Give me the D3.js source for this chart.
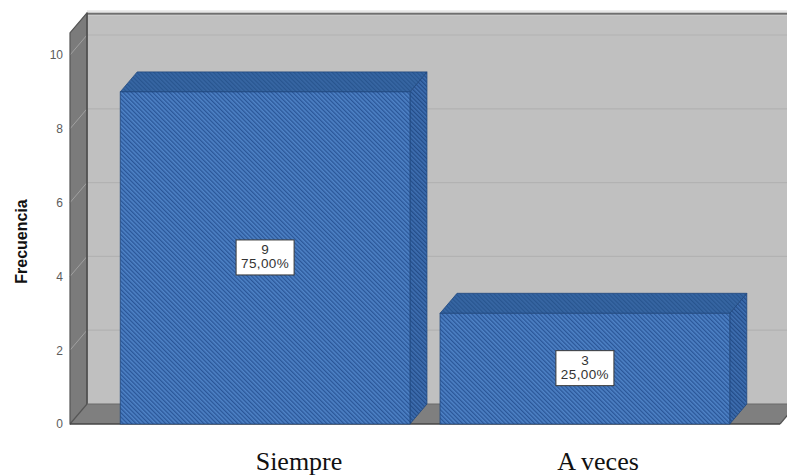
<!DOCTYPE html>
<html>
<head>
<meta charset="utf-8">
<script src="https://cdn.jsdelivr.net/npm/d3@7"></script>
<style>
  html, body { margin: 0; padding: 0; background: #ffffff; }
  svg { display: block; }
</style>
</head>
<body>
<svg id="chart" width="787" height="475"></svg>
<script>
// Frequency of answers, drawn as a 3D bar chart
const categories = ["Siempre", "A veces"];
const counts = [9, 3];
const yTicks = [0, 2, 4, 6, 8, 10];
const yTitle = "Frecuencia";

const total = d3.sum(counts);
const pctFormat = v => d3.format(".2f")(v * 100).replace(".", ",") + "%";

const svg = d3.select("#chart");
const W = 787, H = 475;

// Depth offset of the 3D box
const dx = 17, dy = -20;

const x = d3.scaleBand()
  .domain(categories)
  .range([70, 780])
  .paddingInner(0.094)
  .paddingOuter(0.157);

const y = d3.scaleLinear().domain([0, 10]).range([424, 55]);
const wallTopValue = 10.6;

// Category captions row below the floor
const captionX = d3.scalePoint().domain(categories).range([299, 598]);

const x0 = x.range()[0], x1 = x.range()[1];
const yBase = y(0), yTop = y(wallTopValue);

// Hatch patterns for the bar faces
const defs = svg.append("defs");
function hatch(id, base, stripe, w) {
  const p = defs.append("pattern")
    .attr("id", id)
    .attr("patternUnits", "userSpaceOnUse")
    .attr("width", 3).attr("height", 3)
    .attr("patternTransform", "rotate(-45)");
  p.append("rect").attr("width", 3).attr("height", 3).attr("fill", base);
  p.append("rect").attr("width", w).attr("height", 3).attr("fill", stripe);
}
hatch("hFront", "#4e82c6", "#2a5698", 1.3);
hatch("hSide", "#3f70b2", "#234c88", 1.3);
hatch("hTop", "#3766a3", "#28558f", 1.2);

const poly = pts => "M" + pts.map(p => p.join(",")).join("L") + "Z";

// Back wall
svg.append("path")
  .attr("d", poly([[x0 + dx, yBase + dy], [W + 20, yBase + dy], [W + 20, yTop + dy], [x0 + dx, yTop + dy]]))
  .attr("fill", "#c0c0c0");

// Side wall
svg.append("path")
  .attr("d", poly([[x0, yBase], [x0, yTop], [x0 + dx, yTop + dy], [x0 + dx, yBase + dy]]))
  .attr("fill", "#7b7b7b");

// Gridlines: diagonal across the side wall, horizontal across the back wall
const grid = svg.append("g");
yTicks.filter(t => t > 0).forEach(t => {
  grid.append("line")
    .attr("x1", x0).attr("y1", y(t))
    .attr("x2", x0 + dx).attr("y2", y(t) + dy)
    .attr("stroke", "#a0a0a0").attr("stroke-width", 1);
  grid.append("line")
    .attr("x1", x0 + dx).attr("y1", y(t) + dy)
    .attr("x2", W + 20).attr("y2", y(t) + dy)
    .attr("stroke", "#b2b2b2").attr("stroke-width", 1.2);
});

// Floor
svg.append("path")
  .attr("d", poly([[x0, yBase], [x1, yBase], [x1 + dx, yBase + dy], [x0 + dx, yBase + dy]]))
  .attr("fill", "#7f7f7f");

// Box edges
const edges = svg.append("g").attr("fill", "none").attr("stroke-linejoin", "round");
edges.append("line")
  .attr("x1", x0 + dx).attr("y1", yTop + dy).attr("x2", W + 20).attr("y2", yTop + dy)
  .attr("stroke", "#e6e6e6").attr("stroke-width", 5);
edges.append("line")
  .attr("x1", x0 + dx).attr("y1", yTop + dy + 1).attr("x2", W + 20).attr("y2", yTop + dy + 1)
  .attr("stroke", "#6f6f6f").attr("stroke-width", 2);
edges.append("line")
  .attr("x1", x0 + dx).attr("y1", yTop + dy).attr("x2", x0 + dx).attr("y2", yBase + dy)
  .attr("stroke", "#4a4a4a").attr("stroke-width", 1.5);
edges.append("path")
  .attr("d", poly([[x0, yBase], [x0, yTop], [x0 + dx, yTop + dy], [x0 + dx, yBase + dy]]))
  .attr("stroke", "#555555").attr("stroke-width", 1.2);
edges.append("line")
  .attr("x1", x0).attr("y1", yBase).attr("x2", x1).attr("y2", yBase)
  .attr("stroke", "#444444").attr("stroke-width", 1.5);
edges.append("line")
  .attr("x1", x1).attr("y1", yBase).attr("x2", x1 + dx).attr("y2", yBase + dy)
  .attr("stroke", "#555555").attr("stroke-width", 1.2);
edges.append("line")
  .attr("x1", x0 + dx).attr("y1", yBase + dy).attr("x2", x1 + dx).attr("y2", yBase + dy)
  .attr("stroke", "#6a6a6a").attr("stroke-width", 1);

// Bars
const bars = svg.append("g")
  .selectAll("g.bar")
  .data(categories.map((c, i) => ({ cat: c, value: counts[i] })))
  .join("g").attr("class", "bar");

bars.each(function (d) {
  const g = d3.select(this);
  const bx = x(d.cat), bw = x.bandwidth();
  const by = y(d.value);
  // side face
  g.append("path")
    .attr("d", poly([[bx + bw, yBase], [bx + bw, by], [bx + bw + dx, by + dy], [bx + bw + dx, yBase + dy]]))
    .attr("fill", "url(#hSide)")
    .attr("stroke", "#1f477f").attr("stroke-width", 0.8);
  // top face
  g.append("path")
    .attr("d", poly([[bx, by], [bx + dx, by + dy], [bx + bw + dx, by + dy], [bx + bw, by]]))
    .attr("fill", "url(#hTop)")
    .attr("stroke", "#1f477f").attr("stroke-width", 0.8);
  // front face
  g.append("rect")
    .attr("x", bx).attr("y", by)
    .attr("width", bw).attr("height", yBase - by)
    .attr("fill", "url(#hFront)")
    .attr("stroke", "#21497f").attr("stroke-width", 0.8);
});

// Value labels in the middle of each front face
const labels = svg.append("g")
  .selectAll("g.lbl")
  .data(categories.map((c, i) => ({ cat: c, value: counts[i] })))
  .join("g").attr("class", "lbl")
  .attr("transform", d => `translate(${x(d.cat) + x.bandwidth() / 2},${(y(d.value) + yBase) / 2})`);

labels.append("rect")
  .attr("x", -29).attr("y", -18)
  .attr("width", 58).attr("height", 35)
  .attr("fill", "#ffffff")
  .attr("stroke", "#3a3a3a").attr("stroke-width", 1);

labels.append("text")
  .attr("text-anchor", "middle")
  .attr("y", -4)
  .attr("font-family", "Arial, 'Liberation Sans', sans-serif")
  .attr("font-size", 13.5)
  .attr("fill", "#333333")
  .text(d => d.value);

labels.append("text")
  .attr("text-anchor", "middle")
  .attr("y", 10)
  .attr("font-family", "Arial, 'Liberation Sans', sans-serif")
  .attr("font-size", 13.5)
  .attr("letter-spacing", 0.4)
  .attr("fill", "#333333")
  .text(d => pctFormat(d.value / total));

// Y axis tick labels
const yAxis = d3.axisLeft(y).tickValues(yTicks).tickSize(0).tickPadding(4);
const ya = svg.append("g")
  .attr("transform", `translate(${x0 - 3},0)`)
  .call(yAxis);
ya.select(".domain").remove();
ya.selectAll("text")
  .attr("font-family", "Arial, 'Liberation Sans', sans-serif")
  .attr("font-size", 12)
  .attr("fill", "#5c5c5c");

// Y axis title
svg.append("text")
  .attr("transform", `translate(27,${(y(0) + y(10)) / 2 + 2}) rotate(-90)`)
  .attr("text-anchor", "middle")
  .attr("font-family", "Arial, 'Liberation Sans', sans-serif")
  .attr("font-weight", "bold")
  .attr("font-size", 16)
  .attr("fill", "#111111")
  .text(yTitle);

// Category captions
svg.append("g")
  .selectAll("text")
  .data(categories)
  .join("text")
  .attr("x", d => captionX(d))
  .attr("y", 470)
  .attr("text-anchor", "middle")
  .attr("font-family", "'Times New Roman', 'Liberation Serif', serif")
  .attr("font-size", 26)
  .attr("fill", "#111111")
  .text(d => d);
</script>
</body>
</html>
